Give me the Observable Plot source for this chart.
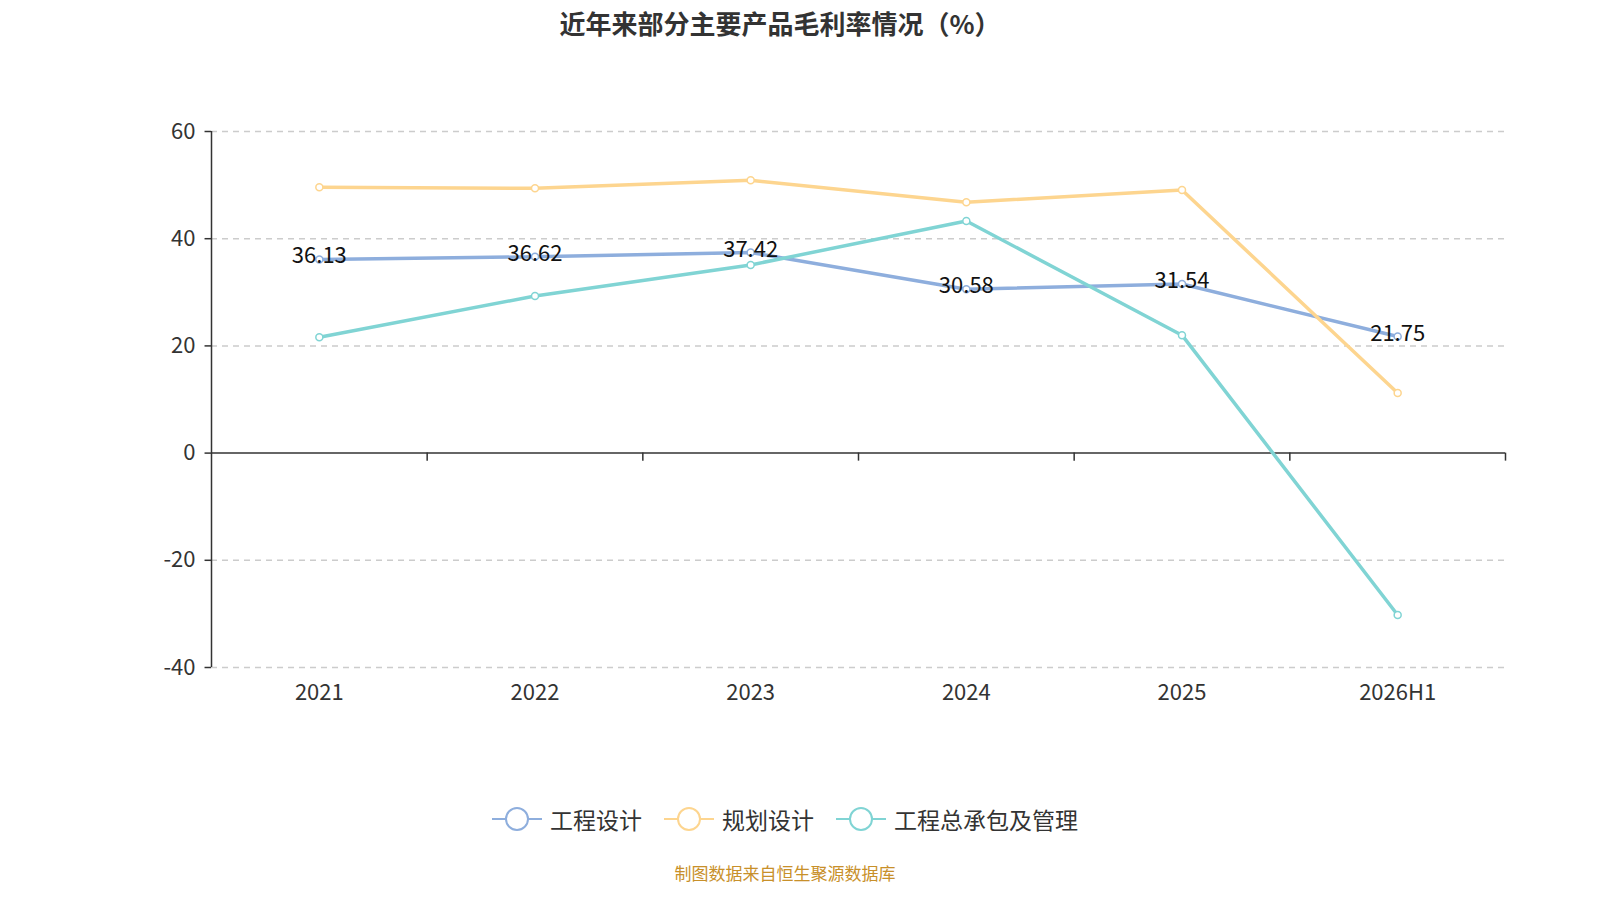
<!DOCTYPE html>
<html><head><meta charset="utf-8">
<script src="https://cdn.jsdelivr.net/npm/d3@7"></script>
<script src="https://cdn.jsdelivr.net/npm/@observablehq/plot@0.6"></script>
<style>
body{margin:0;background:#fff;font-family:"Noto Sans CJK SC","Noto Sans",sans-serif;width:1600px;height:900px;position:relative;overflow:hidden}
#title{position:absolute;top:4px;left:0;width:1560px;text-align:center;font-size:26px;font-weight:bold;color:#333}
#chart{position:absolute;top:0;left:0}
#legend{position:absolute;top:802px;left:0;width:1570px;display:flex;justify-content:center;gap:22px;font-size:23px;color:#333}
.li{display:flex;align-items:center;gap:8px}
#cap{position:absolute;top:860px;left:0;width:1570px;text-align:center;font-size:17px;color:#c8902a}
</style></head><body>
<div id="title">近年来部分主要产品毛利率情况（%）</div>
<div id="chart"></div>
<div id="legend"></div>
<div id="cap">制图数据来自恒生聚源数据库</div>
<script>
const years = ["2021","2022","2023","2024","2025","2026H1"];
const seriesNames = ["工程设计","规划设计","工程总承包及管理"];
const colors = ["#8eaedd","#fdd58f","#80d4d4"];
const design = [36.13,36.62,37.42,30.58,31.54,21.75];
const planning = [49.6,49.4,50.9,46.8,49.1,11.2];
const epc = [21.6,29.3,35.1,43.3,22.0,-30.2];
const yTicks = [-40,-20,0,20,40,60];

const vals=[design,planning,epc];
const data=[];
vals.forEach((arr,s)=>arr.forEach((v,i)=>data.push({s:seriesNames[s],i,v})));

const plot = Plot.plot({
  width:1600,height:780,marginLeft:211,marginRight:95,marginTop:131,marginBottom:113,
  style:{fontFamily:"Noto Sans CJK SC, Noto Sans, sans-serif",fontSize:"22px",color:"#333",overflow:"visible"},
  x:{domain:[-0.5,5.5],axis:null,type:"linear"},
  y:{domain:[-40,60],axis:null,type:"linear"},
  color:{domain:seriesNames,range:colors},
  marks:[
    Plot.ruleY(yTicks.filter(d=>d!==0),{y:d=>d,stroke:"#ccc",strokeDasharray:"6,5",strokeWidth:1.5}),
    Plot.ruleY([0],{y:d=>d,stroke:"#333",strokeWidth:1.5}),
    Plot.ruleX([-0.5],{x:d=>d,stroke:"#333",strokeWidth:1.5}),
    Plot.ruleX([0.5,1.5,2.5,3.5,4.5,5.5],{x:d=>d,y1:0,y2:-1.5,stroke:"#333",strokeWidth:1.5}),
    Plot.ruleY(yTicks,{y:d=>d,x1:-0.5,x2:-0.53,stroke:"#333",strokeWidth:1.5}),
    Plot.text(yTicks,{x:()=>-0.5,y:d=>d,text:d=>String(d),dx:-16,textAnchor:"end",fontSize:22,fill:"#333"}),
    Plot.text(years,{x:(d,i)=>i,y:()=>-40,text:d=>d,dy:25,fontSize:22,fill:"#333"}),
    Plot.line(data,{x:"i",y:"v",z:"s",stroke:"s",strokeWidth:3.5}),
    Plot.dot(data,{x:"i",y:"v",stroke:"s",fill:"#fff",r:3.5,strokeWidth:1.5}),
    Plot.text(design,{x:(d,i)=>i,y:d=>d,text:d=>d.toFixed(2),dy:-3,fontSize:22,fill:"#111"})
  ]
});
document.getElementById("chart").appendChild(plot);
const lg=document.getElementById("legend");
seriesNames.forEach((n,k)=>{
  lg.insertAdjacentHTML("beforeend",`<div class="li"><svg width="50" height="26"><line x1="0" y1="13" x2="50" y2="13" stroke="${colors[k]}" stroke-width="2"/><circle cx="25" cy="13" r="11" fill="#fff" stroke="${colors[k]}" stroke-width="2"/></svg><span>${n}</span></div>`);
});
</script></body></html>
